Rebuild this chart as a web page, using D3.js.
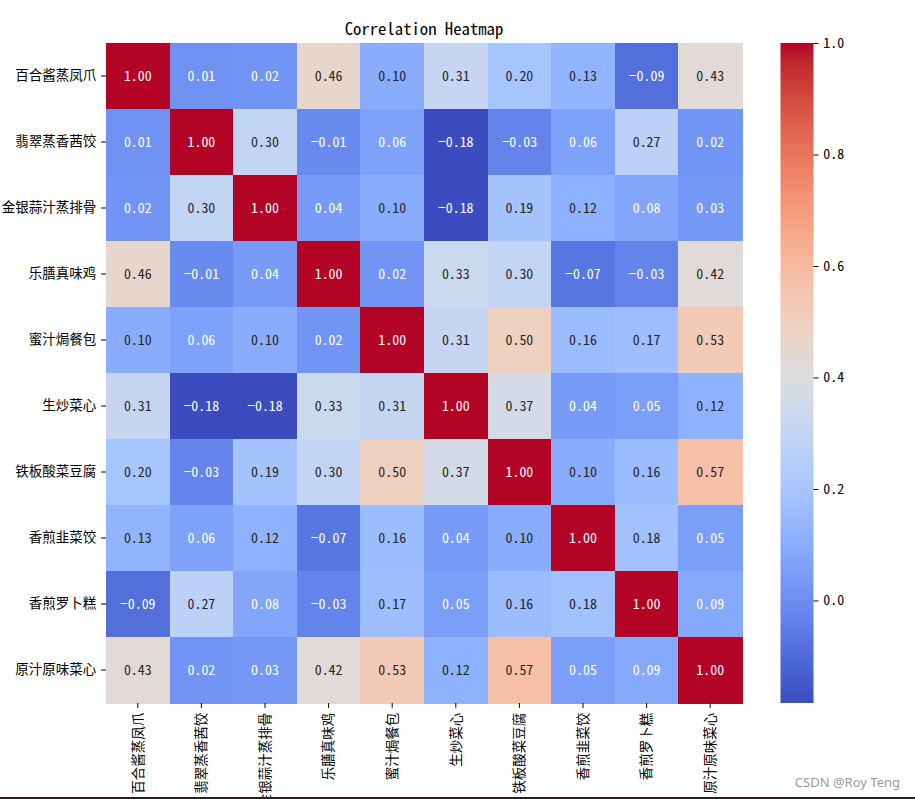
<!DOCTYPE html>
<html>
<head>
<meta charset="utf-8">
<script src="https://cdn.jsdelivr.net/npm/d3@7"></script>
<style>
  html, body { margin: 0; padding: 0; background: #fff; overflow: hidden; }
  svg { display: block; }
</style>
</head>
<body>
<svg id="chart" width="915" height="799"></svg>
<script>
// ---------------- data ----------------
const chartTitle = "Correlation Heatmap";
const dishes = ["百合酱蒸凤爪", "翡翠蒸香茜饺", "金银蒜汁蒸排骨", "乐膳真味鸡", "蜜汁焗餐包",
                "生炒菜心", "铁板酸菜豆腐", "香煎韭菜饺", "香煎罗卜糕", "原汁原味菜心"];
const row0 = [1.00, 0.01, 0.02, 0.46, 0.10, 0.31, 0.20, 0.13, -0.09, 0.43];
const row1 = [0.01, 1.00, 0.30, -0.01, 0.06, -0.184, -0.03, 0.06, 0.27, 0.02];
const row2 = [0.02, 0.30, 1.00, 0.04, 0.10, -0.184, 0.19, 0.12, 0.08, 0.03];
const row3 = [0.46, -0.01, 0.04, 1.00, 0.02, 0.33, 0.30, -0.07, -0.03, 0.42];
const row4 = [0.10, 0.06, 0.10, 0.02, 1.00, 0.31, 0.50, 0.16, 0.17, 0.53];
const row5 = [0.31, -0.184, -0.184, 0.33, 0.31, 1.00, 0.37, 0.04, 0.05, 0.12];
const row6 = [0.20, -0.03, 0.19, 0.30, 0.50, 0.37, 1.00, 0.10, 0.16, 0.57];
const row7 = [0.13, 0.06, 0.12, -0.07, 0.16, 0.04, 0.10, 1.00, 0.18, 0.05];
const row8 = [-0.09, 0.27, 0.08, -0.03, 0.17, 0.05, 0.16, 0.18, 1.00, 0.09];
const row9 = [0.43, 0.02, 0.03, 0.42, 0.53, 0.12, 0.57, 0.05, 0.09, 1.00];
const corrRows = [row0, row1, row2, row3, row4, row5, row6, row7, row8, row9];
const colorbarTicks = [0.0, 0.2, 0.4, 0.6, 0.8, 1.0];
const watermark = "CSDN @Roy Teng";

// coolwarm colormap table (Moreland), 33 evenly spaced stops
const coolwarmStops = [
  [59,76,192],[68,90,204],[77,104,215],[87,117,225],[98,130,234],[108,142,241],
  [119,154,247],[130,165,251],[141,176,254],[152,185,255],[163,194,255],[174,201,253],
  [184,208,249],[194,213,244],[204,217,238],[213,219,230],[221,221,221],[229,216,209],
  [236,211,197],[241,204,185],[245,196,173],[247,187,160],[247,177,148],[247,166,135],
  [244,154,123],[241,141,111],[236,127,99],[229,112,88],[222,96,77],[213,80,66],
  [203,62,56],[192,40,47],[180,4,38]
];
const coolwarm = d3.interpolateRgbBasis ? null : null;
function coolwarmAt(t) {
  t = Math.max(0, Math.min(1, t));
  const n = coolwarmStops.length - 1;
  const p = t * n;
  const i = Math.min(n - 1, Math.floor(p));
  const f = p - i;
  const a = coolwarmStops[i], b = coolwarmStops[i + 1];
  return [0,1,2].map(k => a[k] + (b[k] - a[k]) * f);
}
function rgbStr(c) { return d3.rgb(c[0], c[1], c[2]).formatHex(); }
function relLum(c) {
  const v = c.map(x => { x = x / 255; return x <= 0.03928 ? x / 12.92 : Math.pow((x + 0.055) / 1.055, 2.4); });
  return 0.2126 * v[0] + 0.7152 * v[1] + 0.0722 * v[2];
}

// ---------------- layout ----------------
const svg = d3.select("#chart");
const plot = { left: 106, right: 742, top: 43, bottom: 703 };
const cb = { left: 780.5, right: 813.5, top: 43, bottom: 703 };
const monoFont = "'Noto Sans Mono CJK SC', 'DejaVu Sans Mono', monospace";
const cjkFont = "'Noto Sans CJK SC', 'Noto Sans', sans-serif";

const allVals = corrRows.flat();
const vmin = d3.min(allVals), vmax = d3.max(allVals);
const norm = d3.scaleLinear().domain([vmin, vmax]).range([0, 1]);
const colorOf = v => coolwarmAt(norm(v));

const x = d3.scaleBand().domain(dishes).range([plot.left, plot.right]).padding(0);
const y = d3.scaleBand().domain(dishes).range([plot.top, plot.bottom]).padding(0);

// cells
const cells = [];
corrRows.forEach((row, i) => row.forEach((v, j) => cells.push({ r: dishes[i], c: dishes[j], v })));

svg.append("g").selectAll("rect").data(cells).join("rect")
  .attr("x", d => x(d.c))
  .attr("y", d => y(d.r))
  .attr("width", x.bandwidth() + 0.5)
  .attr("height", y.bandwidth() + 0.5)
  .attr("fill", d => rgbStr(colorOf(d.v)))
  .attr("shape-rendering", "crispEdges");

svg.append("g").selectAll("text").data(cells).join("text")
  .attr("x", d => x(d.c) + x.bandwidth() / 2)
  .attr("y", d => y(d.r) + y.bandwidth() / 2)
  .attr("dy", "0.36em")
  .attr("text-anchor", "middle")
  .attr("font-family", monoFont)
  .attr("font-size", "13.9px")
  .attr("fill", d => relLum(colorOf(d.v)) > 0.408 ? "#262626" : "#ffffff")
  .text(d => d3.format(".2f")(d.v).replace("-", "\u2212"));

// axes
const yAxis = d3.axisLeft(y).tickSize(4.9).tickPadding(4.9);
const yg = svg.append("g").attr("transform", `translate(${plot.left},0)`).call(yAxis);
yg.select(".domain").remove();
yg.selectAll(".tick line").attr("stroke", "#000").attr("stroke-width", 1);
yg.selectAll(".tick text").attr("font-family", cjkFont).attr("font-size", "13.5px").attr("fill", "#000");

const xAxis = d3.axisBottom(x).tickSize(4.9).tickPadding(4.9);
const xg = svg.append("g").attr("transform", `translate(0,${plot.bottom})`).call(xAxis);
xg.select(".domain").remove();
xg.selectAll(".tick line").attr("stroke", "#000").attr("stroke-width", 1);
xg.selectAll(".tick text")
  .attr("font-family", cjkFont).attr("font-size", "13.5px").attr("fill", "#000")
  .attr("transform", "rotate(-90)")
  .attr("text-anchor", "end")
  .attr("x", -9.8).attr("y", 0).attr("dy", "0.35em");

// title
svg.append("text")
  .attr("x", (plot.left + plot.right) / 2)
  .attr("y", 35)
  .attr("text-anchor", "middle")
  .attr("font-family", monoFont)
  .attr("font-size", "16.7px")
  .attr("fill", "#000")
  .text(chartTitle);

// colorbar
const defs = svg.append("defs");
const grad = defs.append("linearGradient").attr("id", "cbgrad")
  .attr("x1", 0).attr("y1", 1).attr("x2", 0).attr("y2", 0);
coolwarmStops.forEach((c, i) => {
  grad.append("stop").attr("offset", i / (coolwarmStops.length - 1)).attr("stop-color", rgbStr(c));
});
svg.append("rect")
  .attr("x", cb.left).attr("y", cb.top)
  .attr("width", cb.right - cb.left).attr("height", cb.bottom - cb.top)
  .attr("fill", "url(#cbgrad)");

const cbScale = d3.scaleLinear().domain([vmin, vmax]).range([cb.bottom, cb.top]);
const cbAxis = d3.axisRight(cbScale).tickValues(colorbarTicks).tickFormat(d3.format(".1f")).tickSize(4.9).tickPadding(4.9);
const cg = svg.append("g").attr("transform", `translate(${cb.right},0)`).call(cbAxis);
cg.select(".domain").remove();
cg.selectAll(".tick line").attr("stroke", "#000");
cg.selectAll(".tick text").attr("font-family", monoFont).attr("font-size", "13.9px").attr("fill", "#000");

// watermark
svg.append("text")
  .attr("x", 900).attr("y", 787)
  .attr("text-anchor", "end")
  .attr("font-family", "'Noto Sans', 'DejaVu Sans', sans-serif")
  .attr("font-size", "13px")
  .attr("fill", "#9a9a9a")
  .text(watermark);

// bottom frame line of the screenshot
svg.append("rect").attr("x", 0).attr("y", 797).attr("width", 915).attr("height", 2).attr("fill", "#2a2020");
</script>
</body>
</html>
